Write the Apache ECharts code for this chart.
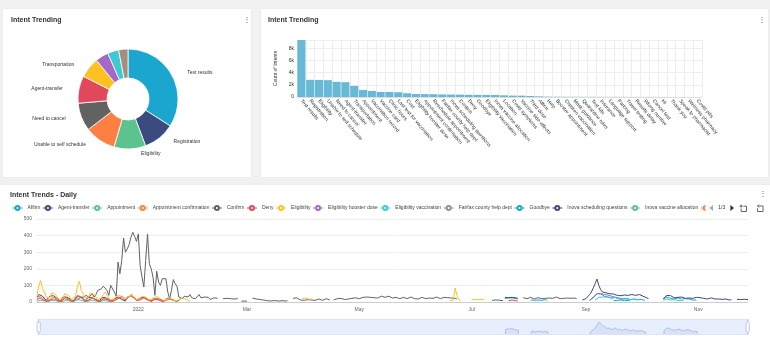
<!DOCTYPE html>
<html><head><meta charset="utf-8">
<script src="https://cdn.jsdelivr.net/npm/echarts@6/dist/echarts.min.js"></script>
<style>html,body{margin:0;padding:0;background:#f1f1f1;overflow:hidden}#c{width:770px;height:342px}</style>
</head><body><div id="c"></div><script>
// ---------- data ----------
const intentNames = ['Test results','Registration','Eligibility','Unable to self schedule','Need to cancel','Agent-transfer','Transportation','Appointment','Vaccination record','Vaccine card','Clinic hours','Last test for vaccination','Cost','Eligibility booster dose','Appointment confirmation','Reschedule appointment','Fairfax county help dept','Inova scheduling questions','Confirm','Deny','Goodbye','Eligibility vaccination','Inova vaccine allocation','Location','Covid symptoms','Vaccine side effects','Third dose','Affirm','Help','Booster appointment','Children vaccination','Mask guidance','Quarantine rules','Test kits','Insurance','Language support','Parking','Travel testing','Results delay','Wrong number','Cancel test','Hi','Thank you','Speak to pharmacist','Wellness pharmacy','Covid pills'];
const intentCounts = [9390,2830,2820,2780,2500,2440,1830,1170,1000,830,830,780,610,500,480,460,420,400,390,360,350,340,330,280,230,220,170,110,60,45,40,35,32,30,28,25,22,20,18,16,14,12,10,8,6,5];
const pieSliceCount = 10;
const barTicks = [0,2000,4000,6000,8000];

const dailyStart = '2021-11-07';
const dailyEnd = '2022-11-28';
const lineNames = ['Affirm','Agent-transfer','Appointment','Appointment confirmation','Confirm','Deny','Eligibility','Eligibility booster dose','Eligibility vaccination','Fairfax county help dept','Goodbye','Inova scheduling questions','Inova vaccine allocation','Insurance','Language support','Last test for vaccination','Location','Mask guidance','Need to cancel','Parking','Quarantine rules','Registration','Reschedule appointment','Test kits','Test results','Third dose','Transportation','Travel testing','Unable to self schedule','Vaccination record','Vaccine card','Vaccine side effects','Wellness pharmacy','Wrong number'];

const affirmDaily = [
  ['2022-07-19',[22,26,24,28,25,22,20,18]],
  ['2022-08-02',[12,15,10,14,12,16,10,12,14,10]],
  ['2022-09-03',[10,18,25,35,50,60,48,40,35,28,30,25,22,30,28,20,24,18,20,25,22,18,15,20,18,14,16,20,15,12,10]],
  ['2022-10-13',[18,25,30,28,22,20,18,22,25,20,18,15,20,22,18,15,12,14,12]]
];
const agentTransferDaily = [
  ['2021-11-07',[30,45,40,35,25,10,8,35, 40,38,30,20,8,6,30,35, 30,25,18,6,5,28,40,35, 30,22,8,6,30,35,25,20, 15,5,6,25,30,28,20,15, 6,5,20,25,30,22,15,8, 6,30,40,35,30,25,10,8, 25,30,28,20,18,8,6,22, 25,20,18,15,6,5,20, 22,18,15,12,5,4,15,18]],
  ['2022-07-19',[28,30,26,32,28,30,25,22]],
  ['2022-08-30',[12,15,20,30,45,60,85,110, 138,100,74,60,50,55,45,50, 42,48,55,40,45,38,50,42, 35,40,38,45,55,40,38,45, 40,35,30,25,20]],
  ['2022-10-13',[20,30,40,45,38,30,25,30, 28,35,30,25,22,28,24,20, 22,25,28,30,26,24,22,20, 18,22,25,20,18,15,18,20, 16,14,18,15,12,14,null,null, 16,18,15,14,16,18,15,14]]
];
const appointmentDaily = [
  ['2021-11-07',[5,12,10,8,6,3,2, 4,10,12,8,6,2,2, 4,8,10,6,5,2,1, 6,15,12,10,6,3,2, 5,10,12,8,5,2,2, 4,8,10,6,4,2,1]]
];
const apptConfirmationDaily = [
  ['2021-11-07',[20,35,30,25,15,8,6, 15,25,30,20,15,6,5, 12,28,25,18,12,5,4, 15,35,40,30,20,8,6, 12,25,30,22,15,6,5, 10,20,25,18,12,5,4, 10,18,22,30,25,15,10, 20,35,40,30,22,10,8, 15,25,30,20,15,6,5, 10,20,22,18,12,5,4, 8,15,18,12,10,4,3]]
];
const confirmDaily = [
  ['2021-11-29',[10,25,15,30,20,40,25,35, 50,30,45,70,60,80,95,100, 70,40,100,90,60,35,240,170, 250,385,300,320,345,390,420,395, 365,410,220,150,90,250,410,230, 200,150,40,185,120,100,140,145, 140,60,20,70,135,110,95,30, 25,20,35,40,30,45,25,35, 20,30,45,25,20,30,22,28,15,20,25,18,22]],
  ['2022-02-16',[20,18,22,15,20,25,18,15,20,null,5,4,6,5]],
  ['2022-03-04',[24,22,18,20,15,14,12,10,8,8,6,7,9,8,6,5,8,7,6,8]],
  ['2022-03-26',[22,18,25,20,12,15,10,18,14,20,12,16,10,14,18,12,10,15,20,14,12]],
  ['2022-04-17',[12,10,20,30,22,18,15,20, 18,14,22,20,25,18,20,16, 28,35,30,24,28,22,26,20, 24,30,35,32,28,26,35,30, 24,22,28,26,20,24,28,22, 20,26,30,24,20,22,18,24, 28,22,20,26,24,18,22,26, 30,24,20,22,28,32,26,20, 24,30,22,18]],
  ['2022-07-12',[10,8,12,9,11,10,8]],
  ['2022-07-29',[26,22,20,24,28,22,18,20,26,24,20,18,22,28,24,20,22,26,30,24,20,18,22,26,24,20,22,28,24,20]]
];
const denyDaily = [
  ['2021-11-07',[10,25,20,15,10,5,4, 10,18,20,15,10,4,3, 8,20,22,15,10,4,3, 15,40,35,25,15,6,4, 10,22,25,18,12,5,4, 8,18,20,15,10,4,3, 8,15,20,25,35,28,15, 20,30,45,35,25,10,8, 12,20,25,18,12,5,4, 8,15,18,12,10,4,3]],
  ['2022-07-21',[8,10,12,9,7,6]]
];
const eligibilityDaily = [
  ['2021-11-07',[40,100,130,80,60,30,20, 25,55,60,45,35,15,12, 20,50,60,40,30,12,10, 40,95,125,70,50,25,15, 30,55,65,45,35,15,10, 25,45,60,40,30,12,10, 20,35,45,40,30,20,15, 25,30,40,35,30,15,10, 20,35,40,30,25,12,10, 18,30,35,28,20,10,8, 15,25,30,22,18,8,6, 12,20,25,18,15,6,5]],
  ['2022-03-31',[22,18,24,20,16,20]],
  ['2022-06-19',[8,10,12,84,40,15,8]],
  ['2022-07-01',[14,12,15,13,14,12,15,14]]
];
const boosterDoseDaily = [
  ['2022-09-03',[10,20,30,40,50,55,52,48,45,50,42,38,35,30,28,25,20,18,15]]
];
const eligibilityVaccinationDaily = [
  ['2022-09-06',[12,20,28,35,30,26,30,32,28,25,30,26,22,25,20,22,18,20,16,18,15,12,14,10]],
  ['2022-10-13',[10,14,18,15,12,16,14,12,10,12,8,10]]
];
const goodbyeDaily = [
  ['2022-09-16',[8,12,10,14,12,10,8,12,10,9]]
];
const dailySegments = {
  'Affirm': affirmDaily,
  'Agent-transfer': agentTransferDaily,
  'Appointment': appointmentDaily,
  'Appointment confirmation': apptConfirmationDaily,
  'Confirm': confirmDaily,
  'Deny': denyDaily,
  'Eligibility': eligibilityDaily,
  'Eligibility booster dose': boosterDoseDaily,
  'Eligibility vaccination': eligibilityVaccinationDaily,
  'Goodbye': goodbyeDaily
};
const lineTicks = [0,100,200,300,400,500];

// ---------- helpers ----------
const palette = ['#1ba6cf','#3b4a7f','#5cc38e','#fd7f42','#626262','#e2485b','#fdc221','#a469c7','#40c9d5','#a38f7d'];
const DAY = 86400000;
const MONTHS = ['Jan','Feb','Mar','Apr','May','Jun','Jul','Aug','Sep','Oct','Nov','Dec'];
function ts(s){const p=s.split('-').map(Number);return Date.UTC(p[0],p[1]-1,p[2]);}
function buildDaily(segs){
  if(!segs||!segs.length) return [];
  const t0=ts(dailyStart), n=Math.round((ts(dailyEnd)-t0)/DAY)+1, out=[];
  for(let i=0;i<n;i++) out.push([t0+i*DAY,null]);
  segs.forEach(([s,vals])=>{const off=Math.round((ts(s)-t0)/DAY);vals.forEach((v,j)=>{if(out[off+j]) out[off+j][1]=v;});});
  return out;
}
const FONT = '"Liberation Sans", Arial, sans-serif';
const cards = [[3,9,248,168],[261,9,507,168],[0,185,770,160]];

const option = {
  useUTC: true,
  animation: false,
  textStyle: {fontFamily: FONT},
  title: [
    {text:'Intent Trending', left:11, top:17, padding:0, textStyle:{fontSize:7,fontWeight:'bold',color:'#333',fontFamily:FONT}},
    {text:'Intent Trending', left:268, top:17, padding:0, textStyle:{fontSize:7,fontWeight:'bold',color:'#333',fontFamily:FONT}},
    {text:'Intent Trends - Daily', left:10, top:192, padding:0, textStyle:{fontSize:7,fontWeight:'bold',color:'#333',fontFamily:FONT}}
  ],
  graphic: cards.map(c=>({type:'rect',z:-10,silent:true,shape:{x:c[0],y:c[1],width:c[2],height:c[3]},style:{fill:'#fff',shadowBlur:2,shadowColor:'rgba(0,0,0,0.06)'}}))
    .concat([[243,16],[758,16],[759,190]].map(p=>({type:'text',x:p[0],y:p[1],silent:true,style:{text:'⋮',fontSize:8,fill:'#666',fontFamily:FONT}}))),
  legend: {
    type:'scroll', data: lineNames, left:12, top:204, width:722, padding:[1,0,1,0],
    itemWidth:10, itemHeight:5, itemGap:2,
    lineStyle:{width:1},
    textStyle:{fontSize:5,color:'#444',fontFamily:FONT},
    pageIconSize:6, pageButtonItemGap:3, pageButtonGap:4,
    pageTextStyle:{fontSize:5,color:'#333'}, pageIconColor:'#333', pageIconInactiveColor:'#aaa'
  },
  toolbox: {left:737, top:202, padding:0, itemSize:7, itemGap:6, feature:{dataZoom:{yAxisIndex:'none',xAxisIndex:1}}, iconStyle:{borderColor:'#666'}},
  grid: [
    {left:297, right:68, top:40, bottom:245},
    {left:37, right:22, top:219, bottom:40}
  ],
  xAxis: [
    {type:'category', gridIndex:0, data:intentNames,
     axisLabel:{rotate:-50, interval:0, fontSize:5, color:'#333', margin:3},
     axisTick:{show:false}, axisLine:{lineStyle:{color:'#ddd'}},
     splitLine:{show:true, lineStyle:{color:'#eee'}}},
    {type:'time', gridIndex:1, min:ts(dailyStart), max:ts(dailyEnd),
     axisLabel:{fontSize:5, color:'#666', margin:5, formatter:v=>{const d=new Date(v);return d.getUTCMonth()===0?String(d.getUTCFullYear()):MONTHS[d.getUTCMonth()];}},
     axisTick:{show:false}, axisLine:{lineStyle:{color:'#ccc'}}, splitLine:{show:false}}
  ],
  yAxis: [
    {type:'value', gridIndex:0, min:barTicks[0], max:9400, interval:barTicks[1]-barTicks[0],
     name:'Count of Intents', nameLocation:'middle', nameGap:18, nameTextStyle:{fontSize:5,color:'#333'},
     axisLabel:{fontSize:5, color:'#333', margin:3, showMaxLabel:false, formatter:v=>v===0?'0':(v/1000)+'k'},
     axisLine:{show:false}, axisTick:{show:false}, splitLine:{lineStyle:{color:'#eee'}}},
    {type:'value', gridIndex:1, min:lineTicks[0], max:lineTicks[lineTicks.length-1], interval:lineTicks[1]-lineTicks[0],
     axisLabel:{fontSize:5, color:'#666', margin:5},
     axisLine:{show:false}, axisTick:{show:false}, splitLine:{lineStyle:{color:'#eee'}}}
  ],
  dataZoom: [{type:'slider', xAxisIndex:1, left:37, right:22, top:319, height:16, start:0, end:100, showDetail:false, brushSelect:false}],
  series: [
    {type:'pie', center:[128,99], radius:[21,50], startAngle:90, clockwise:true,
     minShowLabelAngle:20, avoidLabelOverlap:true,
     itemStyle:{borderColor:'#fff', borderWidth:0.8},
     label:{show:true, position:'outside', fontSize:5, color:'#333', fontFamily:FONT},
     labelLine:{show:false, length:5, length2:6},
     data:intentNames.slice(0,pieSliceCount).map((n,i)=>({name:n, value:intentCounts[i], itemStyle:{color:palette[i%palette.length]}}))},
    {type:'bar', xAxisIndex:0, yAxisIndex:0, data:intentCounts, barCategoryGap:'8%', itemStyle:{color:'#67b9d5'}}
  ].concat(lineNames.map((n,i)=>({
    type:'line', name:n, xAxisIndex:1, yAxisIndex:1, showSymbol:false, symbol:'emptyCircle', symbolSize:4,
    color:palette[i%palette.length], lineStyle:{width:1}, itemStyle:{borderWidth:1}, connectNulls:false,
    data:buildDaily(dailySegments[n])
  })))
};
const chart = echarts.init(document.getElementById('c'), null, {renderer:'canvas'});
chart.setOption(option);
</script></body></html>
